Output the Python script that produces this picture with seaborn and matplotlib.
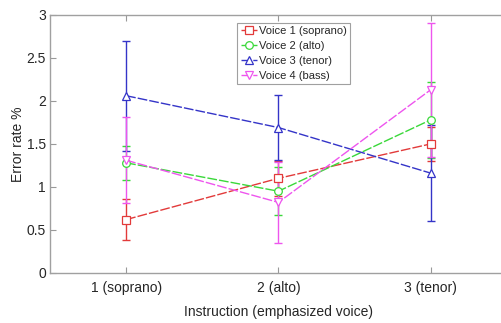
# Error rate per instruction, one line per voice
import numpy as np
import pandas as pd
import seaborn as sns
import matplotlib.pyplot as plt

instructions = ['1 (soprano)', '2 (alto)', '3 (tenor)']
voices = ['Voice 1 (soprano)', 'Voice 2 (alto)', 'Voice 3 (tenor)', 'Voice 4 (bass)']

# mean error rate and half-width of the error bar
soprano = [0.62, 1.10, 1.50]
soprano_err = [0.24, 0.20, 0.20]
alto = [1.28, 0.95, 1.78]
alto_err = [0.20, 0.28, 0.44]
tenor = [2.06, 1.69, 1.16]
tenor_err = [0.64, 0.38, 0.56]
bass = [1.31, 0.82, 2.13]
bass_err = [0.50, 0.47, 0.78]

means = [soprano, alto, tenor, bass]
errs = [soprano_err, alto_err, tenor_err, bass_err]
colors = ['#e23a3a', '#3ad83a', '#3434c8', '#ee55ee']
markers = ['s', 'o', '^', 'v']

sns.set_style('white')
plt.rcParams['font.family'] = ['Liberation Sans', 'DejaVu Sans']

fig = plt.figure(figsize=(5.01, 3.23), dpi=100)
ax = fig.add_axes([0.0998, 0.155, 0.912, 0.799])

x = np.arange(1, 4)
for name, m, e, c, mk in zip(voices, means, errs, colors, markers):
    df = pd.DataFrame({'x': x, 'y': m})
    ax.errorbar(x, m, yerr=e, fmt='none', ecolor=c, elinewidth=1.0,
                capsize=3, capthick=1.0, zorder=2)
    sns.lineplot(data=df, x='x', y='y', ax=ax, color=c, dashes=(7, 1.5),
                 linewidth=1.0, marker=mk, markersize=5.5, markerfacecolor='white',
                 markeredgecolor=c, markeredgewidth=0.9, label=name, zorder=3)

ax.set_xlim(0.5, 3.5)
ax.set_ylim(0, 3)
ax.set_xticks(x)
ax.set_xticklabels(instructions)
ax.set_yticks([0, 0.5, 1, 1.5, 2, 2.5, 3])
ax.set_yticklabels(['0', '0.5', '1', '1.5', '2', '2.5', '3'])
ax.tick_params(direction='in', length=4, width=0.8, color='#999999',
               labelsize=10, top=True, bottom=True, left=True, pad=3)
ax.tick_params(axis='x', pad=6)
for s in ax.spines.values():
    s.set_color('#a0a0a0')
    s.set_linewidth(1.0)
ax.spines['right'].set_visible(False)
ax.set_xlabel('Instruction (emphasized voice)', fontsize=10, labelpad=7)
ax.set_ylabel('Error rate %', fontsize=10, labelpad=1)

leg = ax.legend(loc='upper left', bbox_to_anchor=(0.41, 0.97), fontsize=8,
                frameon=True, fancybox=False, edgecolor='#888888',
                handlelength=1.5, handletextpad=0.15, borderpad=0.3,
                labelspacing=0.45, borderaxespad=0)
leg.get_frame().set_linewidth(0.8)

fig.savefig('out.png', dpi=100)
